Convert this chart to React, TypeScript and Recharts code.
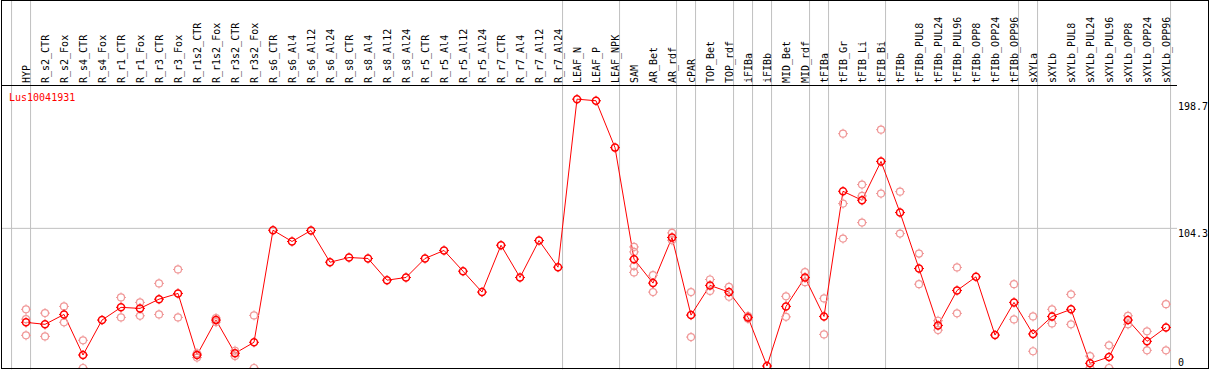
import { ComposedChart, Line, Scatter, XAxis, YAxis, ReferenceLine } from "recharts";

const categories = [
  "HYP", "R_s2_CTR", "R_s2_Fox", "R_s4_CTR", "R_s4_Fox", "R_r1_CTR", "R_r1_Fox", "R_r3_CTR", "R_r3_Fox",
  "R_r1s2_CTR", "R_r1s2_Fox", "R_r3s2_CTR", "R_r3s2_Fox",
  "R_s6_CTR", "R_s6_Al4", "R_s6_Al12", "R_s6_Al24", "R_s8_CTR", "R_s8_Al4", "R_s8_Al12", "R_s8_Al24",
  "R_r5_CTR", "R_r5_Al4", "R_r5_Al12", "R_r5_Al24", "R_r7_CTR", "R_r7_Al4", "R_r7_Al12", "R_r7_Al24",
  "LEAF_N", "LEAF_P", "LEAF_NPK", "SAM", "AR_Bet", "AR_rdf", "cPAR", "TOP_Bet", "TOP_rdf",
  "iFIBa", "iFIBb", "MID_Bet", "MID_rdf", "tFIBa", "tFIB_Gr", "tFIB_Li", "tFIB_Bi", "tFIBb",
  "tFIBb_PUL8", "tFIBb_PUL24", "tFIBb_PUL96", "tFIBb_OPP8", "tFIBb_OPP24", "tFIBb_OPP96",
  "sXYLa", "sXYLb", "sXYLb_PUL8", "sXYLb_PUL24", "sXYLb_PUL96", "sXYLb_OPP8", "sXYLb_OPP24", "sXYLb_OPP96",
];

const meanValues = [
  34.1, 32.6, 40.0, 9.7, 35.8, 45.3, 44.5, 51.4, 55.7,
  9.7, 35.8, 11.0, 19.2,
  102.9, 94.5, 102.7, 79.0, 82.5, 81.8, 65.6, 67.6,
  81.8, 87.8, 72.3, 56.7, 91.7, 67.6, 95.2, 75.3,
  200.8, 199.6, 164.6, 81.3, 63.4, 97.5, 39.5, 61.7, 56.7,
  37.8, 1.5, 46.0, 67.6, 38.5, 132.0, 125.3, 154.3, 116.1,
  74.3, 31.8, 57.9, 68.1, 24.6, 49.0,
  25.4, 38.5, 43.8, 3.5, 8.2, 35.8, 19.9, 30.3,
];

const replicateValues: number[][] = [
  [43.8, 36.5, 24.4], [41.0, 23.6], [46.0, 34.1], [20.7, 0], [], [52.7, 37.8], [49.0, 39.0], [63.2, 40.0], [73.6, 37.8],
  [11.0, 7.8], [34.3, 37.3], [12.9, 8.9], [39.3, 0],
  [], [], [], [], [], [], [], [],
  [], [], [], [], [], [], [], [],
  [], [], [], [90.4, 86.7, 76.1, 71.4], [69.3, 56.7], [100.9, 95.4], [56.7, 23.1], [66.1, 57.6], [60.6, 53.2],
  [38.8, 36.8], [], [53.5, 38.2], [71.6, 64.1], [52.0, 25.1], [175.0, 122.8, 96.7], [137.0, 128.5, 108.6], [178.0, 130.3], [131.7, 100.4],
  [85.5, 62.6], [35.3, 28.3], [75.1, 40.8], [], [], [62.6, 36.3],
  [38.5, 12.5], [43.8, 33.3], [55.0, 32.6], [8.9, 0], [16.9, 0], [39.0, 32.6], [27.4, 13.2], [47.7, 13.2],
];

// last column of each group, a grey rule is drawn just right of it
const groupEnds = [-1, 0, 28, 31, 34, 35, 37, 38, 39, 41, 42, 45, 52, 53, 60];
const yTicks = [0, 104.3, 198.7];
const geneName = "Lus10041931";

const chartData = categories.map((c, i) => ({ idx: i, name: c, mean: meanValues[i] }));
const repData = replicateValues.flatMap((reps, i) => reps.map((v) => ({ idx: i, v })));

const FONT = "'DejaVu Sans Mono', monospace";
const GREY = "#c0c0c0";

const Marker = ({ cx, cy, color, w }: { cx?: number; cy?: number; color: string; w: number }) => {
  if (cx == null || cy == null) return null;
  const r = 3.5;
  return (
    <g>
      <circle cx={cx} cy={cy} r={r} fill="none" stroke={color} strokeWidth={w} />
      <line x1={cx} y1={cy - r - 1.5} x2={cx} y2={cy - r} stroke={color} strokeWidth={1} />
      <line x1={cx} y1={cy + r} x2={cx} y2={cy + r + 1.5} stroke={color} strokeWidth={1} />
      <line x1={cx - r - 1.5} y1={cy} x2={cx - r} y2={cy} stroke={color} strokeWidth={1} />
      <line x1={cx + r} y1={cy} x2={cx + r + 1.5} y2={cy} stroke={color} strokeWidth={1} />
    </g>
  );
};

const HeaderTick = (props: any) => {
  const { x, payload } = props;
  return (
    <text
      transform={`translate(${x + 4},83) rotate(-90)`}
      fontFamily={FONT}
      fontSize={10}
      fill="#000"
      textAnchor="start"
    >
      {categories[payload.value]}
    </text>
  );
};

const ValueTick = (props: any) => {
  const { y, payload } = props;
  const dy = payload.value === 0 ? -2 : 8.5;
  return (
    <text x={1178} y={y + dy} fontFamily={FONT} fontSize={10} fill="#000" textAnchor="start">
      {payload.value}
    </text>
  );
};

export default function App() {
  const left = 1;
  const right = 1177;
  const x0 = 26;
  const step = 19;
  const domain = [(left - x0) / step, (right - x0) / step];

  return (
    <div style={{ position: "absolute", left: 0, top: 0, width: 1209, height: 370, background: "#fff" }}>
      <ComposedChart width={1209} height={370} data={chartData} margin={{ top: 0, right: 1, bottom: 2, left: 1 }}>
        <XAxis
          xAxisId={0}
          type="number"
          dataKey="idx"
          orientation="top"
          domain={domain}
          allowDataOverflow
          ticks={categories.map((_, i) => i)}
          interval={0}
          tick={<HeaderTick />}
          tickLine={false}
          axisLine={{ stroke: "#000" }}
          height={85.5}
        />
        <YAxis
          type="number"
          orientation="right"
          domain={[0, 211]}
          allowDataOverflow
          ticks={yTicks}
          interval={0}
          tick={<ValueTick />}
          tickLine={false}
          axisLine={false}
          width={31}
        />
        <ReferenceLine y={104.3} stroke={GREY} strokeWidth={1} />
        {groupEnds.map((g) => (
          <ReferenceLine
            key={g}
            segment={[
              { x: g + 0.24, y: -1 },
              { x: g + 0.24, y: 276 },
            ]}
            ifOverflow="visible"
            stroke={GREY}
            strokeWidth={1}
          />
        ))}
        <Scatter
          data={repData}
          dataKey="v"
          isAnimationActive={false}
          shape={(p: any) => <Marker cx={p.cx} cy={p.cy} color="#f09898" w={1.2} />}
        />
        <Line
          dataKey="mean"
          stroke="#ff0000"
          strokeWidth={1}
          isAnimationActive={false}
          dot={(p: any) => <Marker key={p.index} cx={p.cx} cy={p.cy} color="#ff0000" w={1.5} />}
          activeDot={false}
        />
      </ComposedChart>
      <svg width={1209} height={370} style={{ position: "absolute", left: 0, top: 0, pointerEvents: "none" }}>
        <text x={9} y={101} fontFamily={FONT} fontSize={10} fill="#ff0000">
          {geneName}
        </text>
      </svg>
      <div
        style={{
          position: "absolute",
          left: 1,
          top: 0,
          width: 1208,
          height: 369,
          border: "1px solid #000",
          boxSizing: "border-box",
          pointerEvents: "none",
        }}
      />
    </div>
  );
}
